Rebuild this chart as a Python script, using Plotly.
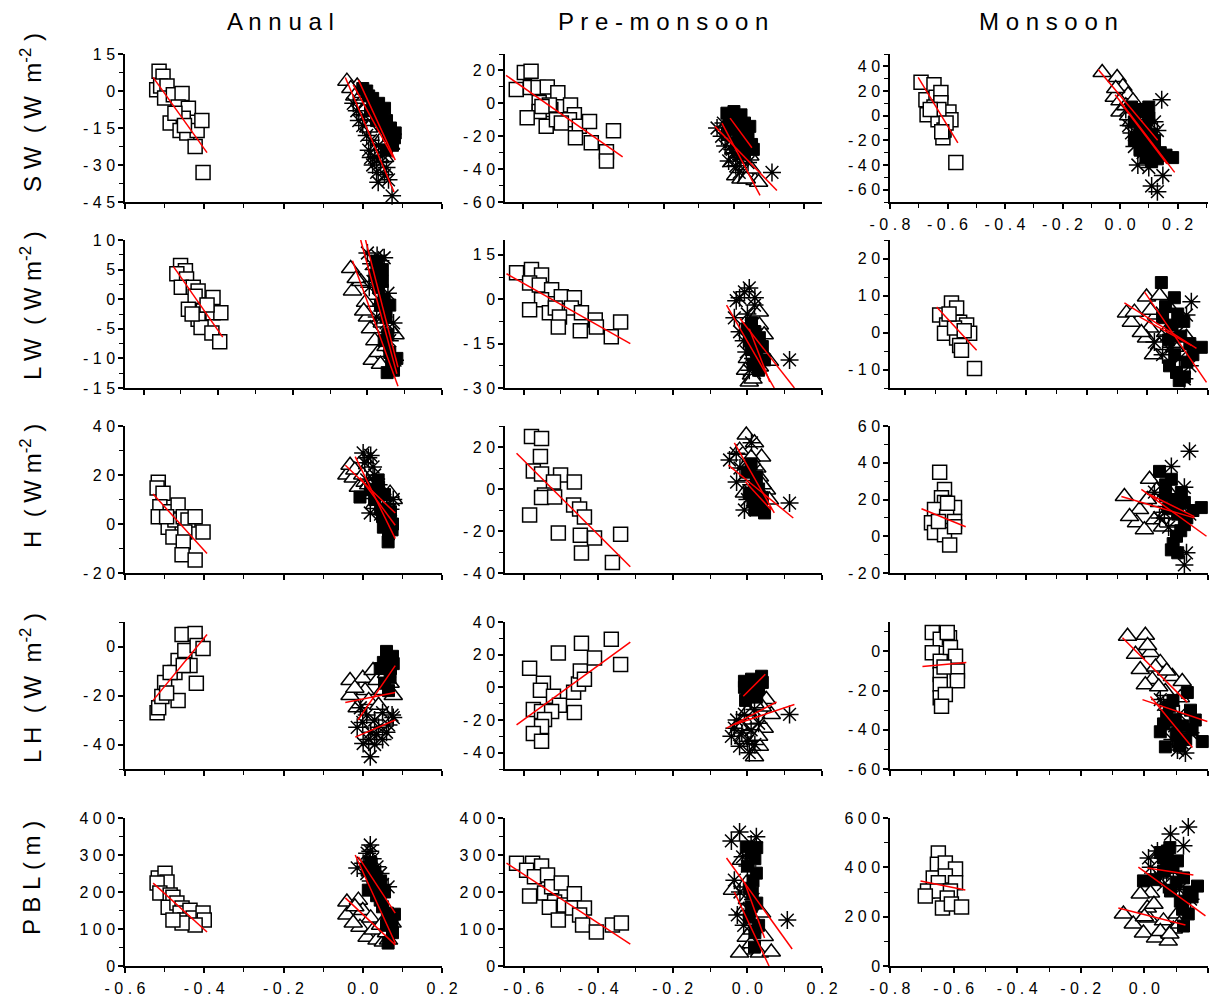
import math
import plotly.graph_objects as go

FONT = "Liberation Sans, Arial, Helvetica, sans-serif"

# ---------------- text ----------------
col_titles = ["Annual", "Pre-monsoon", "Monsoon"]
row_titles = [
    "S W\u00a0\u00a0( W\u00a0\u00a0m<sup>-2</sup> )",
    "L W\u00a0\u00a0( W m<sup>-2</sup> )",
    "H\u00a0\u00a0( W m<sup>-2</sup> )",
    "L H\u00a0\u00a0( W\u00a0\u00a0m<sup>-2</sup> )",
    "P B L\u00a0( m )",
]

# ---------------- tick labels ----------------
x_ticks_ann = [-0.6, -0.4, -0.2, 0.0, 0.2]
x_ticks_pre = [-0.6, -0.4, -0.2, 0.0, 0.2]
x_ticks_mon = [-0.8, -0.6, -0.4, -0.2, 0.0, 0.2]

ann_sw_yticks = [-45, -30, -15, 0, 15]
pre_sw_yticks = [-60, -40, -20, 0, 20]
mon_sw_yticks = [-60, -40, -20, 0, 20, 40]
ann_lw_yticks = [-15, -10, -5, 0, 5, 10]
pre_lw_yticks = [-30, -15, 0, 15]
mon_lw_yticks = [-10, 0, 10, 20]
ann_h_yticks = [-20, 0, 20, 40]
pre_h_yticks = [-40, -20, 0, 20]
mon_h_yticks = [-20, 0, 20, 40, 60]
ann_lh_yticks = [-40, -20, 0]
pre_lh_yticks = [-40, -20, 0, 20, 40]
mon_lh_yticks = [-60, -40, -20, 0]
ann_pbl_yticks = [0, 100, 200, 300, 400]
pre_pbl_yticks = [0, 100, 200, 300, 400]
mon_pbl_yticks = [0, 200, 400, 600]

# ---------------- data (x = index, y = flux) ----------------
# sq = open squares, tri = open triangles, fsq = filled squares, ast = asterisks
# fit = regression line end points

# Annual SW
ann_sw_sq = [(-0.514, 8), (-0.504, 6), (-0.52, 0.5), (-0.51, 2), (-0.494, 2), (-0.50, -2.8), (-0.478, -1.5),
             (-0.456, -1), (-0.466, -6.5), (-0.44, -7), (-0.486, -13), (-0.453, -11), (-0.461, -16), (-0.444, -17),
             (-0.418, -16), (-0.406, -12), (-0.423, -22.5), (-0.403, -33), (-0.474, -9), (-0.45, -14)]
ann_sw_tri = [(-0.04, 4), (-0.014, 2), (-0.03, 1), (-0.02, -2), (0.0, -1), (0.01, -6), (0.02, -10), (0.03, -14),
              (0.04, -8), (0.05, -12), (0.06, -17), (0.074, -16), (0.07, -22), (0.045, -20), (0.035, -25),
              (0.055, -27), (0.015, -15), (0.0, -8)]
ann_sw_fsq = [(0.0, 1), (0.01, 0), (0.015, -2), (0.025, -3), (0.03, -6), (0.02, -8), (0.04, -5), (0.045, -10),
              (0.05, -14), (0.06, -12), (0.065, -18), (0.07, -15), (0.08, -19), (0.082, -17), (0.075, -22),
              (0.035, -12), (0.055, -7), (0.06, -24)]
ann_sw_ast = [(-0.024, -5), (-0.015, -8), (-0.01, -12), (0.0, -14), (0.005, -10), (0.01, -18), (0.02, -20),
              (0.015, -24), (0.03, -27), (0.04, -22), (0.025, -30), (0.045, -29), (0.05, -26), (0.06, -31),
              (0.039, -37), (0.074, -42.5), (0.065, -36), (0.055, -34), (0.035, -33), (0.02, -27)]
ann_sw_fit = [[(-0.529, 5.5), (-0.393, -25)], [(-0.044, 5.5), (0.079, -41)],
              [(-0.011, 4.5), (0.082, -28)], [(-0.024, 2.5), (0.077, -27)]]

# Pre-monsoon SW
pre_sw_sq = [(-0.618, 8.4), (-0.595, 18.8), (-0.576, 19.5), (-0.578, 9.6), (-0.556, 9.6), (-0.53, 10), (-0.50, 6.5),
             (-0.553, 0.5), (-0.52, -3.8), (-0.553, -5), (-0.587, -8.7), (-0.533, -14), (-0.504, -10), (-0.464, -1),
             (-0.453, -7), (-0.467, -10), (-0.439, -14), (-0.45, -21), (-0.41, -11), (-0.405, -24), (-0.362, -29.5),
             (-0.362, -35), (-0.342, -16.6), (-0.524, -1), (-0.49, -12), (-0.545, -2)]
pre_sw_tri = [(-0.01, -20), (0.0, -28), (0.01, -35), (0.02, -40), (0.005, -44), (0.02, -46), (0.04, -44),
              (0.06, -47), (0.07, -48), (0.03, -38), (0.045, -32), (0.015, -25), (0.05, -40), (-0.005, -36),
              (0.035, -46)]
pre_sw_fsq = [(-0.02, -6), (-0.01, -8), (0.0, -5), (0.01, -10), (0.02, -7), (0.03, -12), (-0.015, -14), (0.0, -16),
              (0.015, -19), (0.025, -22), (0.04, -18), (0.05, -25), (0.055, -28), (0.035, -27), (0.01, -24),
              (-0.005, -12), (0.045, -14), (0.03, -30)]
pre_sw_ast = [(-0.048, -15), (-0.03, -12), (-0.02, -18), (-0.01, -22), (-0.025, -26), (0.0, -30), (0.01, -33),
              (-0.015, -35), (0.005, -38), (0.02, -34), (0.03, -28), (0.04, -36), (0.108, -42), (0.015, -42),
              (-0.005, -28), (-0.035, -20)]
pre_sw_fit = [[(-0.647, 17), (-0.316, -32.5)], [(-0.054, -14), (0.122, -53)],
              [(-0.034, -12), (0.074, -56)], [(-0.011, -9), (0.051, -27)]]

# Monsoon SW
mon_sw_sq = [(-0.692, 27), (-0.675, 13), (-0.671, 0.7), (-0.647, 25), (-0.64, 15), (-0.647, 7), (-0.623, 18.7),
             (-0.623, 10.5), (-0.633, -3.4), (-0.612, -11.6), (-0.616, -18), (-0.595, 3), (-0.588, -3.4),
             (-0.571, -38), (-0.63, 5), (-0.66, 5), (-0.605, -6), (-0.62, -13)]
mon_sw_tri = [(-0.062, 35), (-0.01, 31), (0.01, 23.6), (0.028, 17), (0.0, 3), (0.04, -5), (-0.02, 15), (0.0, 12),
              (0.02, 8), (0.05, 5), (0.06, -2), (0.08, -8), (0.1, -15), (0.07, -20), (0.03, 0), (-0.015, 22),
              (0.045, 12), (0.09, 0)]
mon_sw_fsq = [(0.04, 7), (0.06, 3), (0.08, 5), (0.1, 7), (0.05, -5), (0.07, -10), (0.09, -12), (0.11, -15),
              (0.06, -18), (0.08, -22), (0.1, -25), (0.12, -28), (0.14, -30), (0.16, -32), (0.183, -34), (0.09, -34),
              (0.11, -37), (0.13, -35), (0.07, -28), (0.05, -20), (0.1, -2), (0.12, -20)]
mon_sw_ast = [(0.145, 13), (0.062, -40), (0.11, -57), (0.13, -61.6), (0.149, -48.5), (0.04, -14), (0.13, -12),
              (0.02, 5), (0.05, -25), (0.08, -30), (0.1, -42), (0.03, -8), (0.07, 0), (0.12, -5)]
mon_sw_fit = [[(-0.702, 31), (-0.564, -22)], [(-0.076, 37.5), (0.131, -20)],
              [(-0.017, 17), (0.19, -46)], [(0.0, 11), (0.163, -39)]]

# Annual LW
ann_lw_sq = [(-0.501, 5.7), (-0.488, 4.8), (-0.511, 4.3), (-0.485, 3.4), (-0.499, 2), (-0.467, 2), (-0.454, 1.4),
             (-0.462, 0.5), (-0.414, 0.3), (-0.48, -1.7), (-0.44, -2), (-0.454, -3.4), (-0.446, -4.8),
             (-0.414, -2.3), (-0.393, -2.3), (-0.417, -5.7), (-0.396, -7.2), (-0.47, -2.5), (-0.43, -1)]
ann_lw_tri = [(-0.045, 5.2), (-0.04, 1.4), (-0.018, 3), (-0.005, -0.5), (0.0, -3), (0.008, -5), (0.013, -10.3),
              (0.029, -9), (0.074, -6), (-0.03, 3.5), (0.02, -7), (0.04, -4), (0.05, -8), (0.06, -5), (-0.01, -2),
              (0.035, -11)]
ann_lw_fsq = [(0.026, 6.4), (0.02, 4), (0.03, 2), (0.04, 5), (0.045, 0), (0.05, -3), (0.035, -1), (0.055, -6),
              (0.06, -9), (0.065, -11), (0.079, -10), (0.053, -12.4), (0.07, -12), (0.04, 3), (0.06, -1),
              (0.045, -7)]
ann_lw_ast = [(0.0, 7.8), (0.026, 7.4), (0.01, 6), (0.02, 5), (0.035, 6.5), (0.045, 7), (0.015, 3), (0.03, 0),
              (0.04, -2), (0.05, -4), (0.055, 1), (0.06, -7), (0.074, -10.3), (0.07, -4), (0.025, -3), (0.005, 2)]
ann_lw_fit = [[(-0.52, 5.5), (-0.388, -6.4)], [(-0.04, 6.5), (0.082, -14.7)],
              [(-0.018, 10), (0.079, -12.6)], [(-0.005, 10), (0.082, -11.5)]]

# Pre-monsoon LW
pre_lw_sq = [(-0.619, 8.9), (-0.579, 10), (-0.552, 8.2), (-0.584, 5.5), (-0.558, 4.8), (-0.525, 3.2), (-0.552, -0.2),
             (-0.499, 0.8), (-0.464, 0.5), (-0.584, -3.6), (-0.531, -4.6), (-0.515, -3), (-0.472, -3),
             (-0.445, -4.6), (-0.504, -6), (-0.507, -9.4), (-0.448, -10.7), (-0.408, -7), (-0.405, -9.4),
             (-0.365, -12.7), (-0.34, -7.7)]
pre_lw_tri = [(0.032, -8.7), (0.011, -25.6), (0.059, -21), (0.032, -4.3), (0.005, -28), (0.032, -22.9), (0.02, -15),
              (0.045, -12), (0.0, -20), (0.015, -27), (0.04, -18), (-0.005, -24)]
pre_lw_fsq = [(0.011, -8), (0.046, -20.5), (0.032, -13), (0.02, -11), (0.005, -14), (0.025, -18), (0.015, -22),
              (0.04, -16), (0.0, -10), (0.03, -24), (0.01, -17)]
pre_lw_ast = [(0.005, 3.8), (-0.021, 0.5), (-0.035, -6.3), (-0.021, -11), (0.113, -20.5), (0.019, -2), (-0.008, 2.5),
              (-0.003, -17.8), (0.0, -5), (-0.01, -14), (0.01, -9), (-0.03, -0.5), (0.015, -20), (0.005, -24),
              (0.02, 0.5)]
pre_lw_fit = [[(-0.646, 8.6), (-0.314, -15)], [(-0.056, -2), (0.072, -30)],
              [(-0.02, -6.5), (0.126, -30)], [(0.005, -10), (0.06, -28)]]

# Monsoon LW
mon_lw_sq = [(-0.686, 4.7), (-0.647, 8), (-0.63, 6.6), (-0.62, 2.8), (-0.663, 2), (-0.67, -0.2), (-0.597, 2),
             (-0.587, -0.2), (-0.63, -1.5), (-0.62, -3.5), (-0.614, -4.8), (-0.637, 1.2), (-0.571, -9.7),
             (-0.655, 5), (-0.605, 0.5)]
mon_lw_tri = [(-0.069, 5.3), (-0.053, 2.8), (-0.003, 9.6), (0.04, 10), (0.007, 1.2), (-0.003, -1.5), (0.03, 4.7),
              (0.073, 6.6), (-0.043, 5.5), (0.04, -3.5), (0.129, -1.3), (0.02, -6), (0.06, 0), (0.09, -4),
              (-0.02, 0), (0.01, 6)]
mon_lw_fsq = [(0.046, 13.5), (0.089, 9.4), (0.06, 7), (0.1, 5), (0.08, 2), (0.12, 3), (0.07, -2), (0.11, -1),
              (0.14, -3), (0.178, -4), (0.096, -10.8), (0.073, -9), (0.122, -12), (0.09, -6), (0.13, -8),
              (0.15, -6), (0.05, 4), (0.105, -13)]
mon_lw_ast = [(0.145, 8.3), (0.129, 4.7), (0.063, -0.7), (0.023, -2.6), (0.122, -12.5), (0.106, -7), (0.08, -4),
              (0.1, 0), (0.05, -6), (0.14, -9)]
mon_lw_fit = [[(-0.696, 6.9), (-0.564, -4.8)], [(-0.076, 8), (0.162, -4.3)],
              [(-0.01, 11), (0.195, -13.5)], [(-0.026, 4.2), (0.145, -3.5)]]

# Annual H
ann_h_sq = [(-0.516, 17), (-0.519, 14.7), (-0.504, 12.6), (-0.512, 7), (-0.516, 3), (-0.486, 5), (-0.466, 7.8),
            (-0.491, -1.3), (-0.479, -5.3), (-0.474, 1.6), (-0.453, 3), (-0.441, 1.6), (-0.423, 3), (-0.449, -3.3),
            (-0.453, -7.3), (-0.456, -12.6), (-0.423, -14.7), (-0.403, -3.3), (-0.495, 3)]
ann_h_tri = [(-0.04, 20), (-0.024, 18.8), (-0.032, 24), (-0.011, 15), (0.006, 17), (0.044, 14), (0.077, 10),
             (0.052, 7.8), (0.069, 12.6), (-0.02, 22), (0.0, 20), (0.02, 12), (0.03, 8), (0.06, 4), (0.015, 16)]
ann_h_fsq = [(-0.007, 11), (0.039, 18), (0.064, -7.3), (0.074, -2.4), (0.052, -1.3), (0.03, 10), (0.045, 6),
             (0.06, 2), (0.07, 5), (0.055, 12), (0.065, -4), (0.075, 0), (0.04, 15), (0.05, 3), (0.02, 14)]
ann_h_ast = [(0.001, 29), (0.014, 27), (0.026, 23.3), (0.019, 4.5), (0.036, 10), (0.077, 10), (0.005, 25),
             (0.02, 28), (0.03, 20), (0.01, 18), (0.04, 16), (0.05, 12), (0.025, 14), (0.06, 8), (0.045, 4),
             (0.07, 6)]
ann_h_fit = [[(-0.529, 12.2), (-0.393, -12)], [(-0.044, 24), (0.082, 4.5)],
             [(-0.019, 27.5), (0.082, -6)], [(-0.007, 19), (0.082, -0.5)]]

# Pre-monsoon H
pre_h_sq = [(-0.579, 25), (-0.552, 24), (-0.555, 15.5), (-0.574, 8.6), (-0.552, 7.2), (-0.501, 6.7), (-0.464, 3.3),
            (-0.52, 3.3), (-0.544, -2.9), (-0.552, -4.1), (-0.517, -3.8), (-0.466, -7.6), (-0.45, -9.5),
            (-0.437, -13.3), (-0.584, -12.4), (-0.507, -21), (-0.448, -22), (-0.41, -23.3), (-0.445, -30.5),
            (-0.34, -21.5), (-0.362, -35)]
pre_h_tri = [(-0.003, 25.7), (0.019, 22), (0.038, 15.2), (-0.021, 18.5), (-0.003, 11.4), (0.051, -0.5),
             (0.059, -5.2), (0.032, 5.7), (-0.008, -1.9), (0.01, 15), (0.025, 10), (0.04, 2), (0.015, 0), (0.0, 6)]
pre_h_fsq = [(0.046, -11.4), (0.005, -2), (0.024, 5.7), (0.038, -8.6), (0.015, -6), (0.03, 0), (0.0, 8),
             (0.02, -10), (0.04, -4), (0.01, 12)]
pre_h_ast = [(-0.048, 13.8), (0.011, 22), (-0.029, 3.3), (0.113, -6.7), (-0.008, -10), (0.019, 9), (0.032, -3.8),
             (-0.02, 10), (0.0, -5), (0.01, 2), (-0.03, 17), (0.02, -8)]
pre_h_fit = [[(-0.619, 17), (-0.314, -37)], [(-0.051, 11.4), (0.123, -13.8)],
             [(-0.035, 22), (0.072, -11.4)], [(-0.005, 3.3), (0.064, -10)]]

# Monsoon H
mon_h_sq = [(-0.686, 34.8), (-0.67, 25.5), (-0.68, 21), (-0.67, 18.4), (-0.637, 15.6), (-0.703, 14.5),
            (-0.663, 10.7), (-0.713, 7.4), (-0.637, 8), (-0.703, 2), (-0.67, 0.8), (-0.653, -4.7), (-0.637, 5.2),
            (-0.66, 18), (-0.69, 8)]
mon_h_tri = [(-0.076, 21.6), (0.007, 31), (-0.026, 14.5), (-0.036, 7.4), (-0.01, 3.6), (0.04, 18.4), (0.023, 9),
             (-0.059, 10.7), (0.06, 12), (0.08, 22), (0.0, 20), (0.03, 25), (0.05, 5), (0.09, 8)]
mon_h_fsq = [(0.04, 35.3), (0.079, 31), (0.112, 23.8), (0.122, 18.4), (0.178, 15.6), (0.122, 6.3), (0.096, 0),
             (0.079, -7.4), (0.06, 28), (0.09, 20), (0.1, 12), (0.07, 15), (0.11, 3), (0.13, 10), (0.15, 14),
             (0.085, -4), (0.06, 22), (0.1, -9)]
mon_h_ast = [(0.139, 46.3), (0.079, 38), (0.122, 26.6), (0.129, -9), (0.122, -15.6), (0.056, 13), (0.023, 24),
             (0.1, 16), (0.07, 5), (0.14, 12), (0.04, 10)]
mon_h_fit = [[(-0.746, 15), (-0.6, 5.2)], [(-0.086, 21.6), (0.155, 10)],
             [(-0.02, 25.5), (0.195, 0)], [(0.007, 22.7), (0.155, 10.7)]]

# Annual LH
ann_lh_sq = [(-0.519, -27), (-0.515, -25), (-0.5, -14.7), (-0.507, -20.4), (-0.474, -10.6), (-0.466, -5.7),
             (-0.449, -1.6), (-0.456, 4.9), (-0.423, 5.3), (-0.418, 0.4), (-0.436, -7.8), (-0.42, -15),
             (-0.466, -22), (-0.403, -0.8), (-0.486, -10.6), (-0.453, -7.8), (-0.495, -19)]
ann_lh_tri = [(-0.032, -13.9), (0.0, -13), (0.026, -9.8), (-0.032, -20), (0.006, -18), (0.036, -13.9),
              (0.069, -15), (0.077, -20), (-0.014, -25), (0.015, -22), (0.05, -18), (-0.02, -17), (0.04, -24),
              (0.06, -11)]
ann_lh_fsq = [(0.064, -4.5), (0.052, -6.5), (0.077, -7), (0.069, -12.6), (0.044, -9), (0.06, -2), (0.07, -9),
              (0.055, -15), (0.075, -4), (0.065, -18)]
ann_lh_ast = [(-0.006, -25), (0.01, -28), (0.03, -30), (0.05, -27), (0.077, -29), (0.019, -45), (-0.014, -33),
              (0.074, -28), (0.001, -39.6), (0.02, -35), (0.04, -33), (0.06, -35), (0.03, -40), (0.015, -38),
              (0.05, -38), (0.0, -31), (0.065, -32), (0.035, -36)]
ann_lh_fit = [[(-0.529, -22), (-0.393, 4.9)], [(-0.044, -22.9), (0.082, -18.8)],
              [(-0.012, -30), (0.082, -7.8)], [(-0.019, -37), (0.082, -30)]]

# Pre-monsoon LH
pre_lh_sq = [(-0.584, 11.7), (-0.547, 2.5), (-0.555, -1.8), (-0.52, -5.5), (-0.504, -11), (-0.574, -13.5),
             (-0.552, -14.8), (-0.525, -14.8), (-0.544, -19.7), (-0.552, -24), (-0.574, -28.3), (-0.552, -33),
             (-0.507, 21), (-0.466, -3), (-0.464, -15.4), (-0.453, 2), (-0.448, 10), (-0.437, 5), (-0.445, 27),
             (-0.41, 18), (-0.365, 29.5), (-0.34, 14)]
pre_lh_tri = [(0.032, -3), (0.064, -16.6), (0.032, -36), (0.019, -42.5), (-0.003, -28), (0.011, -20),
              (-0.021, -24), (0.051, -7.4), (0.04, -12), (0.02, -10), (0.045, -25), (0.0, -15), (-0.01, -32),
              (0.03, -30)]
pre_lh_fsq = [(-0.008, 3.7), (0.011, 5), (0.038, 6.8), (-0.008, 0), (0.0, -3), (0.02, 2), (0.03, -1), (0.01, -5),
              (0.04, 3), (-0.005, -8), (0.025, -6)]
pre_lh_ast = [(-0.043, -30), (-0.021, -36), (0.005, -40), (0.113, -16.6), (-0.008, -16.6), (0.019, -13.5),
              (-0.029, -20), (0.01, -26), (0.0, -33), (-0.015, -28), (0.03, -22), (0.02, -35), (-0.035, -25)]
pre_lh_fit = [[(-0.619, -23), (-0.314, 27.7)], [(-0.011, -5.5), (0.048, 8)],
              [(-0.056, -25), (0.078, -9)], [(-0.035, -22.8), (0.126, -10.5)]]

# Monsoon LH
mon_lh_sq = [(-0.667, 9.6), (-0.642, 6.2), (-0.613, 7), (-0.667, -0.7), (-0.642, -5), (-0.61, 2), (-0.594, -2.5),
             (-0.588, -10), (-0.588, -15), (-0.642, -11.8), (-0.642, -16.9), (-0.642, -23.6), (-0.626, -22),
             (-0.638, -28), (-0.62, 9.6), (-0.63, -8)]
mon_lh_tri = [(-0.053, 7.7), (0.003, 8.2), (-0.028, -1.5), (0.019, -0.5), (-0.013, -9.2), (0.05, -5.6),
              (0.025, -14.4), (0.088, -12.8), (0.119, -15.4), (0.003, -17), (0.066, -20.5), (0.113, -23.6),
              (0.035, -8), (0.01, 3), (0.07, -10), (0.045, -18)]
mon_lh_fsq = [(0.135, -21), (0.05, -41), (0.066, -48.7), (0.182, -46), (0.145, -30), (0.097, -35), (0.16, -35),
              (0.08, -28), (0.1, -42), (0.12, -38), (0.07, -33), (0.13, -45), (0.11, -48), (0.15, -40),
              (0.09, -25), (0.06, -37)]
mon_lh_ast = [(0.05, -24.6), (0.104, -50.3), (0.129, -51.8), (0.072, -30), (0.145, -41.5), (0.088, -45),
              (0.06, -27), (0.11, -32), (0.12, -47), (0.095, -38)]
mon_lh_fit = [[(-0.698, -7.7), (-0.56, -5.6)], [(-0.069, 7), (0.135, -26)],
              [(-0.006, -24.6), (0.198, -35.8)], [(0.019, -23), (0.151, -49)]]

# Annual PBL
ann_pbl_sq = [(-0.516, 238), (-0.499, 251), (-0.494, 227), (-0.519, 224), (-0.512, 197), (-0.486, 192),
              (-0.479, 186), (-0.491, 159), (-0.469, 170), (-0.456, 157), (-0.461, 143), (-0.436, 151),
              (-0.449, 124), (-0.428, 130), (-0.403, 143), (-0.4, 124), (-0.423, 111), (-0.456, 116), (-0.479, 124)]
ann_pbl_tri = [(-0.04, 173), (-0.011, 178), (-0.04, 138), (-0.007, 105), (0.011, 78), (0.036, 70), (0.074, 116),
               (0.026, 97), (-0.024, 116), (0.052, 65), (0.0, 150), (0.02, 130), (0.06, 90), (0.045, 110),
               (-0.02, 160), (0.065, 70)]
ann_pbl_fsq = [(0.011, 259), (0.026, 232), (0.044, 178), (0.062, 143), (0.074, 116), (0.064, 62), (0.014, 205),
               (0.03, 250), (0.04, 210), (0.05, 160), (0.07, 130), (0.02, 280), (0.035, 190), (0.055, 200),
               (0.075, 90), (0.08, 140), (0.06, 110), (0.045, 230)]
ann_pbl_ast = [(0.019, 327), (0.011, 305), (-0.014, 265), (0.036, 268), (0.064, 214), (0.019, 310), (0.001, 278),
               (0.025, 290), (0.03, 240), (0.045, 250), (0.01, 250), (0.05, 220), (0.04, 200), (0.02, 230)]
ann_pbl_fit = [[(-0.529, 224), (-0.393, 92)], [(-0.044, 184), (0.082, 57)],
               [(-0.019, 300), (0.082, 62)], [(-0.011, 295), (0.082, 143)]]

# Pre-monsoon PBL
pre_pbl_sq = [(-0.619, 278), (-0.576, 278), (-0.592, 259), (-0.552, 270), (-0.571, 241), (-0.536, 246),
              (-0.584, 189), (-0.544, 197), (-0.525, 214), (-0.499, 224), (-0.517, 173), (-0.531, 159),
              (-0.491, 165), (-0.507, 124), (-0.464, 195), (-0.469, 157), (-0.437, 157), (-0.45, 138),
              (-0.442, 111), (-0.405, 92), (-0.362, 111), (-0.338, 116)]
pre_pbl_tri = [(-0.04, 205), (-0.003, 78), (0.005, 43), (0.032, 35), (0.064, 38), (-0.003, 224), (0.038, 143),
               (0.013, 97), (-0.021, 35), (-0.016, 286), (0.01, 60), (0.0, 180), (0.02, 120), (-0.01, 150),
               (0.045, 80)]
pre_pbl_fsq = [(-0.003, 322), (0.011, 305), (0.024, 251), (0.013, 197), (0.005, 132), (0.019, 51), (0.02, 290),
               (0.0, 270), (0.015, 230), (0.025, 170), (0.01, 160), (0.03, 110), (0.02, 90), (0.005, 210),
               (0.025, 320)]
pre_pbl_ast = [(-0.043, 338), (-0.021, 362), (0.024, 349), (-0.035, 232), (-0.027, 138), (0.107, 124),
               (-0.013, 295), (0.01, 330), (0.0, 270), (-0.02, 200), (0.015, 180), (0.005, 150), (-0.01, 110)]
pre_pbl_fit = [[(-0.646, 278), (-0.314, 59)], [(-0.056, 292), (0.12, 46)],
               [(-0.035, 200), (0.058, 0)], [(-0.008, 227), (0.046, 76)]]

# Monsoon PBL
mon_pbl_sq = [(-0.648, 458), (-0.651, 413), (-0.626, 418), (-0.594, 393), (-0.664, 357), (-0.626, 365),
              (-0.648, 337), (-0.594, 337), (-0.682, 304), (-0.651, 304), (-0.689, 284), (-0.61, 304),
              (-0.62, 276), (-0.635, 235), (-0.607, 251), (-0.575, 239)]
mon_pbl_tri = [(-0.066, 211), (-0.035, 170), (-0.003, 134), (0.013, 195), (0.035, 114), (0.075, 101), (0.091, 150),
               (0.019, 296), (0.06, 183), (0.104, 211), (-0.013, 292), (0.009, 235), (0.05, 140), (0.03, 250),
               (0.08, 130), (0.0, 200), (0.11, 170)]
mon_pbl_fsq = [(-0.003, 345), (0.167, 324), (0.138, 211), (0.123, 162), (0.06, 438), (0.104, 426), (0.072, 466),
               (0.06, 385), (0.123, 357), (0.082, 304), (0.113, 263), (0.09, 400), (0.05, 460), (0.1, 340),
               (0.14, 300), (0.03, 350), (0.07, 420), (0.08, 480), (0.15, 280), (0.12, 230)]
mon_pbl_ast = [(0.138, 564), (0.082, 535), (0.123, 487), (0.013, 438), (0.041, 466), (0.145, 271), (0.05, 357),
               (0.091, 385), (0.06, 330), (0.11, 310), (0.02, 400), (0.07, 380)]
mon_pbl_fit = [[(-0.704, 345), (-0.563, 308)], [(-0.082, 235), (0.129, 166)],
               [(-0.019, 401), (0.192, 203)], [(0.009, 397), (0.154, 369)]]

# ---------------- panel assembly ----------------
panels = [
    [(ann_sw_sq, ann_sw_tri, ann_sw_fsq, ann_sw_ast, ann_sw_fit, ann_sw_yticks),
     (pre_sw_sq, pre_sw_tri, pre_sw_fsq, pre_sw_ast, pre_sw_fit, pre_sw_yticks),
     (mon_sw_sq, mon_sw_tri, mon_sw_fsq, mon_sw_ast, mon_sw_fit, mon_sw_yticks)],
    [(ann_lw_sq, ann_lw_tri, ann_lw_fsq, ann_lw_ast, ann_lw_fit, ann_lw_yticks),
     (pre_lw_sq, pre_lw_tri, pre_lw_fsq, pre_lw_ast, pre_lw_fit, pre_lw_yticks),
     (mon_lw_sq, mon_lw_tri, mon_lw_fsq, mon_lw_ast, mon_lw_fit, mon_lw_yticks)],
    [(ann_h_sq, ann_h_tri, ann_h_fsq, ann_h_ast, ann_h_fit, ann_h_yticks),
     (pre_h_sq, pre_h_tri, pre_h_fsq, pre_h_ast, pre_h_fit, pre_h_yticks),
     (mon_h_sq, mon_h_tri, mon_h_fsq, mon_h_ast, mon_h_fit, mon_h_yticks)],
    [(ann_lh_sq, ann_lh_tri, ann_lh_fsq, ann_lh_ast, ann_lh_fit, ann_lh_yticks),
     (pre_lh_sq, pre_lh_tri, pre_lh_fsq, pre_lh_ast, pre_lh_fit, pre_lh_yticks),
     (mon_lh_sq, mon_lh_tri, mon_lh_fsq, mon_lh_ast, mon_lh_fit, mon_lh_yticks)],
    [(ann_pbl_sq, ann_pbl_tri, ann_pbl_fsq, ann_pbl_ast, ann_pbl_fit, ann_pbl_yticks),
     (pre_pbl_sq, pre_pbl_tri, pre_pbl_fsq, pre_pbl_ast, pre_pbl_fit, pre_pbl_yticks),
     (mon_pbl_sq, mon_pbl_tri, mon_pbl_fsq, mon_pbl_ast, mon_pbl_fit, mon_pbl_yticks)],
]
col_xticks = [x_ticks_ann, x_ticks_pre, x_ticks_mon]

# layout geometry (pixels)
W, H = 1221, 1005
col_px = [(125, 442), (505, 822), (890, 1208)]
row_px = [(54, 202), (240, 388), (426, 573), (622, 769), (818, 966)]
x_ranges = [
    [[-0.6, 0.2], [-0.65, 0.25], [-0.8, 0.306]],
    [[-0.65, 0.2], [-0.65, 0.2], [-0.85, 0.2]],
    [[-0.6, 0.2], [-0.65, 0.2], [-0.85, 0.2]],
    [[-0.6, 0.2], [-0.65, 0.2], [-0.8, 0.2]],
    [[-0.6, 0.2], [-0.65, 0.2], [-0.8, 0.2]],
]
y_ranges = [
    [[-45, 15], [-60, 30], [-70, 50]],
    [[-15, 10], [-30, 20], [-15, 25]],
    [[-20, 40], [-40, 30], [-20, 60]],
    [[-50, 10], [-50, 40], [-60, 15]],
    [[0, 400], [0, 400], [0, 600]],
]
title_y_px = [113, 306, 486, 688, 878]
col_title_x_px = [280, 663, 1048]


def spaced(s):
    return " ".join(s)


def minor_vals(rng, majors, step):
    lo, hi = rng
    out = []
    k0 = math.ceil(lo / step - 1e-9)
    k1 = math.floor(hi / step + 1e-9)
    for k in range(k0, k1 + 1):
        v = k * step
        if all(abs(v - m) > step * 0.1 for m in majors):
            out.append(round(v, 6))
    return out


fig = go.Figure()
layout = {}

SQ = dict(symbol="square", size=14, color="white", line=dict(color="black", width=1.5))
TRI = dict(symbol="triangle-up", size=16, color="white", line=dict(color="black", width=1.5))
FSQ = dict(symbol="square", size=12, color="black", line=dict(color="black", width=1))
AST = dict(symbol="asterisk-open", size=15, color="black", line=dict(color="black", width=1.5))

for r in range(5):
    for c in range(3):
        k = r * 3 + c + 1
        sq, tri, fsq, ast, fit, yt = panels[r][c]
        xa = "x" if k == 1 else f"x{k}"
        ya = "y" if k == 1 else f"y{k}"
        for pts, mk in ((sq, SQ), (tri, TRI), (fsq, FSQ), (ast, AST)):
            fig.add_trace(go.Scatter(
                x=[p[0] for p in pts], y=[p[1] for p in pts], mode="markers",
                marker=mk, xaxis=xa, yaxis=ya, cliponaxis=False, hoverinfo="skip"))
        for seg in fit:
            fig.add_trace(go.Scatter(
                x=[seg[0][0], seg[1][0]], y=[seg[0][1], seg[1][1]], mode="lines",
                line=dict(color="#ff0000", width=1.5), xaxis=xa, yaxis=ya,
                cliponaxis=False, hoverinfo="skip"))

        xt = col_xticks[c]
        show_x = (r == 4) or (r == 0 and c == 2)
        x0, x1 = col_px[c]
        y0, y1 = row_px[r]
        common = dict(showline=True, linecolor="black", linewidth=1.5, ticks="outside",
                      ticklen=5, tickwidth=1.5, tickcolor="black", showgrid=False, zeroline=False,
                      automargin=False,
                      tickfont=dict(family=FONT, size=16, color="black"))
        xkey = "xaxis" if k == 1 else f"xaxis{k}"
        ykey = "yaxis" if k == 1 else f"yaxis{k}"
        layout[xkey] = dict(
            common, domain=[x0 / W, x1 / W], range=x_ranges[r][c], anchor=ya,
            tickmode="array", tickvals=xt, ticktext=[spaced(f"{v:.1f}") for v in xt],
            showticklabels=show_x, ticklabelstandoff=2,
            minor=dict(ticks="outside", ticklen=4, tickwidth=1.2, tickcolor="black",
                       tickvals=minor_vals(x_ranges[r][c], xt, 0.1)))
        ystep = yt[1] - yt[0]
        layout[ykey] = dict(
            common, domain=[1 - y1 / H, 1 - y0 / H], range=y_ranges[r][c], anchor=xa,
            tickmode="array", tickvals=yt, ticktext=[spaced(str(v)) for v in yt],
            minor=dict(ticks="outside", ticklen=4, tickwidth=1.2, tickcolor="black",
                       tickvals=minor_vals(y_ranges[r][c], yt, ystep / 2)))

annotations = []
for c, t in enumerate(col_titles):
    annotations.append(dict(
        text=spaced(t), x=col_title_x_px[c] / W, y=1 - 22 / H, xref="paper", yref="paper",
        showarrow=False, xanchor="center", yanchor="middle",
        font=dict(family=FONT, size=24, color="black")))
for r, t in enumerate(row_titles):
    annotations.append(dict(
        text=t, x=31 / W, y=1 - title_y_px[r] / H, xref="paper", yref="paper",
        showarrow=False, xanchor="center", yanchor="middle", textangle=-90,
        font=dict(family=FONT, size=24, color="black")))

fig.update_layout(
    width=W, height=H, margin=dict(l=0, r=0, t=0, b=0, autoexpand=False),
    paper_bgcolor="white", plot_bgcolor="white", showlegend=False,
    annotations=annotations, **layout)

fig.write_html("out.html")
